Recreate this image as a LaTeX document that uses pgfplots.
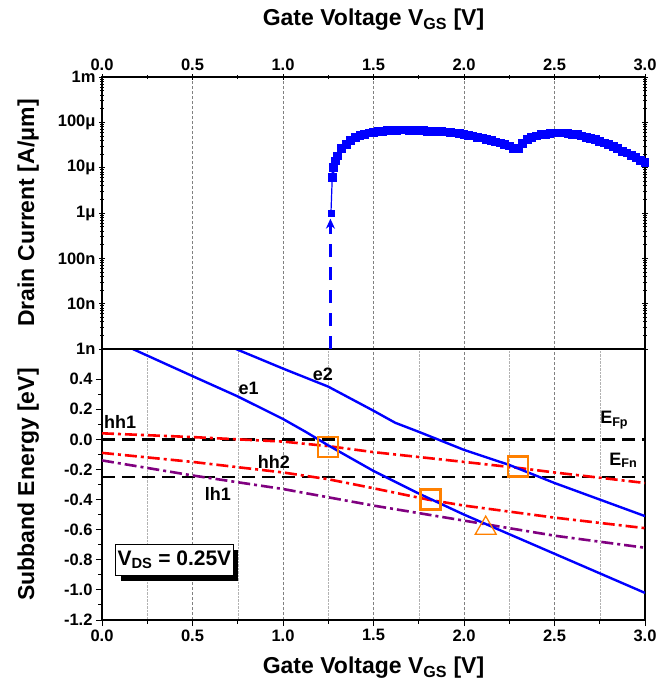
\documentclass[border=0pt]{standalone}
\usepackage{fontspec}
\setmainfont{Liberation Sans}
\usepackage{pgfplots}
\pgfplotsset{compat=1.18}
\usetikzlibrary{shadows,arrows.meta}
\definecolor{myorange}{RGB}{255,128,0}
\definecolor{mypurple}{RGB}{128,0,128}
\pgfplotsset{
  common/.style={
    scale only axis, width=543pt, xmin=0, xmax=3,
    axis line style={line width=1.2pt},
    tick style={black, line width=0.9pt},
    major tick length=6pt, minor tick length=3.5pt,
    tick label style={font=\fontsize{16.5}{18}\selectfont\bfseries},
    label style={font=\fontsize{23}{26}\selectfont\bfseries},
    /pgf/number format/assume math mode=true,
    xtick={0,0.5,1,1.5,2,2.5,3}, minor x tick num=1,
    xticklabel style={/pgf/number format/.cd, fixed, fixed zerofill, precision=1},
    major grid style={gray, densely dashed, line width=0.5pt},
    minor grid style={gray!60, densely dotted, line width=0.5pt},
  },
  dashdot/.style={dash pattern=on 12pt off 4pt on 3pt off 4pt},
}
\begin{document}
\begin{tikzpicture}
\path[use as bounding box] (-102pt,-63pt) rectangle (569pt,620pt);
% ---------------- bottom axis ----------------
\begin{axis}[common, at={(0pt,0pt)}, anchor=south west, height=271pt,
  ymin=-1.2, ymax=0.6,
  ytick={-1.2,-1.0,-0.8,-0.6,-0.4,-0.2,0,0.2,0.4}, minor y tick num=1,
  yticklabel style={/pgf/number format/.cd, fixed, fixed zerofill, precision=1},
  xtick pos=bottom, ytick pos=left, tick align=outside,
  xmajorgrids, xminorgrids,
  xlabel={Gate Voltage V\textsubscript{GS} [V]},
  ylabel={Subband Energy [eV]},
  xlabel style={at={(axis description cs:0.5,-0.177)}, anchor=center},
  ylabel style={at={(axis description cs:-0.136,0.5)}, anchor=center},
]
\addplot[black, line width=2.6pt, dash pattern=on 13pt off 7pt] coordinates {(0,0) (3,0)};
\addplot[black, line width=2.6pt, dash pattern=on 13pt off 7pt] coordinates {(0,-0.25) (3,-0.25)};
\addplot[red, line width=2.6pt, dashdot] coordinates {(0,0.04) (0.5,0.015) (1.0,-0.015) (1.25,-0.045) (1.5,-0.085) (2.0,-0.15) (2.3,-0.19) (2.5,-0.22) (3.0,-0.29)};
\addplot[red, line width=2.6pt, dashdot] coordinates {(0,-0.09) (0.5,-0.15) (1.0,-0.22) (1.25,-0.265) (1.5,-0.325) (1.8,-0.40) (2.0,-0.44) (2.5,-0.52) (3.0,-0.59)};
\addplot[mypurple, line width=2.6pt, dashdot] coordinates {(0,-0.14) (0.5,-0.24) (1.0,-0.33) (1.5,-0.44) (2.0,-0.54) (2.5,-0.64) (3.0,-0.72)};
\addplot[blue, line width=2.4pt] coordinates {(0.17,0.6) (0.5,0.42) (0.75,0.285) (1.0,0.135) (1.125,0.05) (1.25,-0.04) (1.5,-0.21) (1.75,-0.36) (2.0,-0.50) (2.25,-0.63) (2.5,-0.76) (2.75,-0.89) (3.0,-1.02)};
\addplot[blue, line width=2.4pt] coordinates {(0.74,0.6) (1.0,0.47) (1.25,0.35) (1.5,0.19) (1.62,0.11) (1.75,0.05) (2.0,-0.07) (2.25,-0.17) (2.5,-0.29) (2.75,-0.40) (3.0,-0.51)};
\addplot[only marks, mark=square, mark size=10pt, myorange, mark options={line width=2.2pt}] coordinates {(1.25,-0.05) (1.815,-0.40) (2.30,-0.18)};
\addplot[only marks, mark=triangle, mark size=12pt, myorange, mark options={line width=1.3pt}] coordinates {(2.12,-0.59)};
\node[font=\fontsize{18}{20}\selectfont\bfseries] at (axis cs:0.81,0.34) {e1};
\node[font=\fontsize{18}{20}\selectfont\bfseries] at (axis cs:1.22,0.43) {e2};
\node[font=\fontsize{18}{20}\selectfont\bfseries] at (axis cs:0.10,0.115) {hh1};
\node[font=\fontsize{18}{20}\selectfont\bfseries] at (axis cs:0.95,-0.15) {hh2};
\node[font=\fontsize{18}{20}\selectfont\bfseries] at (axis cs:0.64,-0.36) {lh1};
\node[font=\fontsize{18}{20}\selectfont\bfseries] at (axis cs:2.83,0.13) {E\textsubscript{Fp}};
\node[font=\fontsize{18}{20}\selectfont\bfseries] at (axis cs:2.88,-0.14) {E\textsubscript{Fn}};
\node[draw=black, line width=1pt, fill=white, minimum width=114pt, minimum height=31pt, inner sep=2pt,
  drop shadow={shadow xshift=5pt, shadow yshift=-6pt, fill=black, opacity=1},
  font=\fontsize{21}{23}\selectfont\bfseries] at (axis cs:0.40,-0.80) {V\textsubscript{DS} = 0.25V};
\end{axis}
% ---------------- top axis ----------------
\begin{axis}[common, at={(0pt,271pt)}, anchor=south west, height=272pt,
  ymode=log, ymin=1e-9, ymax=1e-3,
  ytick={1e-9,1e-8,1e-7,1e-6,1e-5,1e-4,1e-3},
  yticklabels={1n,10n,100n,1μ,10μ,100μ,1m},
  xticklabel pos=top, xtick pos=top, ytick pos=both, tick align=center,
  xmajorgrids,
  xlabel={Gate Voltage V\textsubscript{GS} [V]},
  ylabel={Drain Current [A/μm]},
  xlabel style={at={(axis description cs:0.5,1.21)}, anchor=center},
  ylabel style={at={(axis description cs:-0.136,0.5)}, anchor=center},
]
\addplot[blue, line width=2.6pt, dash pattern=on 13pt off 10pt, -{Stealth[length=10pt,width=9pt]}] coordinates {(1.262,1e-9) (1.262,0.75e-6)};
\addplot[blue, line width=1.2pt] coordinates {(1.265,1.0e-6) (1.272,6.0e-6)};
\addplot[blue, line width=2.8pt, mark=square*, mark size=3pt] coordinates {
(1.272,6.0e-6) (1.28,10e-6) (1.29,14e-6) (1.30,18e-6) (1.325,26e-6) (1.35,33e-6) (1.375,40e-6)
(1.40,46e-6) (1.425,51e-6) (1.45,55e-6) (1.475,58e-6) (1.50,60e-6) (1.525,62e-6) (1.55,63e-6)
(1.575,65e-6) (1.60,66e-6) (1.625,67e-6) (1.65,68e-6) (1.675,68e-6) (1.70,67e-6) (1.725,67e-6)
(1.75,66e-6) (1.775,65e-6) (1.80,64e-6) (1.825,63e-6) (1.85,63e-6) (1.875,62e-6) (1.90,61e-6)
(1.925,59e-6) (1.95,58e-6) (1.975,56e-6) (2.00,55e-6) (2.025,52e-6) (2.05,50e-6) (2.075,47e-6)
(2.10,45e-6) (2.125,42e-6) (2.15,40e-6) (2.175,37e-6) (2.20,35e-6) (2.225,32e-6) (2.25,30e-6)
(2.275,27e-6) (2.29,26e-6) (2.30,27e-6) (2.325,34e-6) (2.35,41e-6) (2.375,46e-6) (2.40,50e-6)
(2.425,53e-6) (2.45,55e-6) (2.475,57e-6) (2.50,58e-6) (2.525,58e-6) (2.55,58e-6) (2.575,57e-6)
(2.60,55e-6) (2.625,53e-6) (2.65,50e-6) (2.675,47e-6) (2.70,44e-6) (2.725,41e-6) (2.75,38e-6)
(2.775,35e-6) (2.80,32e-6) (2.825,29e-6) (2.85,26e-6) (2.875,23e-6) (2.90,21e-6) (2.925,18.5e-6)
(2.95,16.5e-6) (2.975,14.5e-6) (3.00,13e-6)};
\addplot[blue, only marks, mark=square*, mark size=2.8pt] coordinates {(1.265,1.0e-6)};
\end{axis}
\end{tikzpicture}
\end{document}
